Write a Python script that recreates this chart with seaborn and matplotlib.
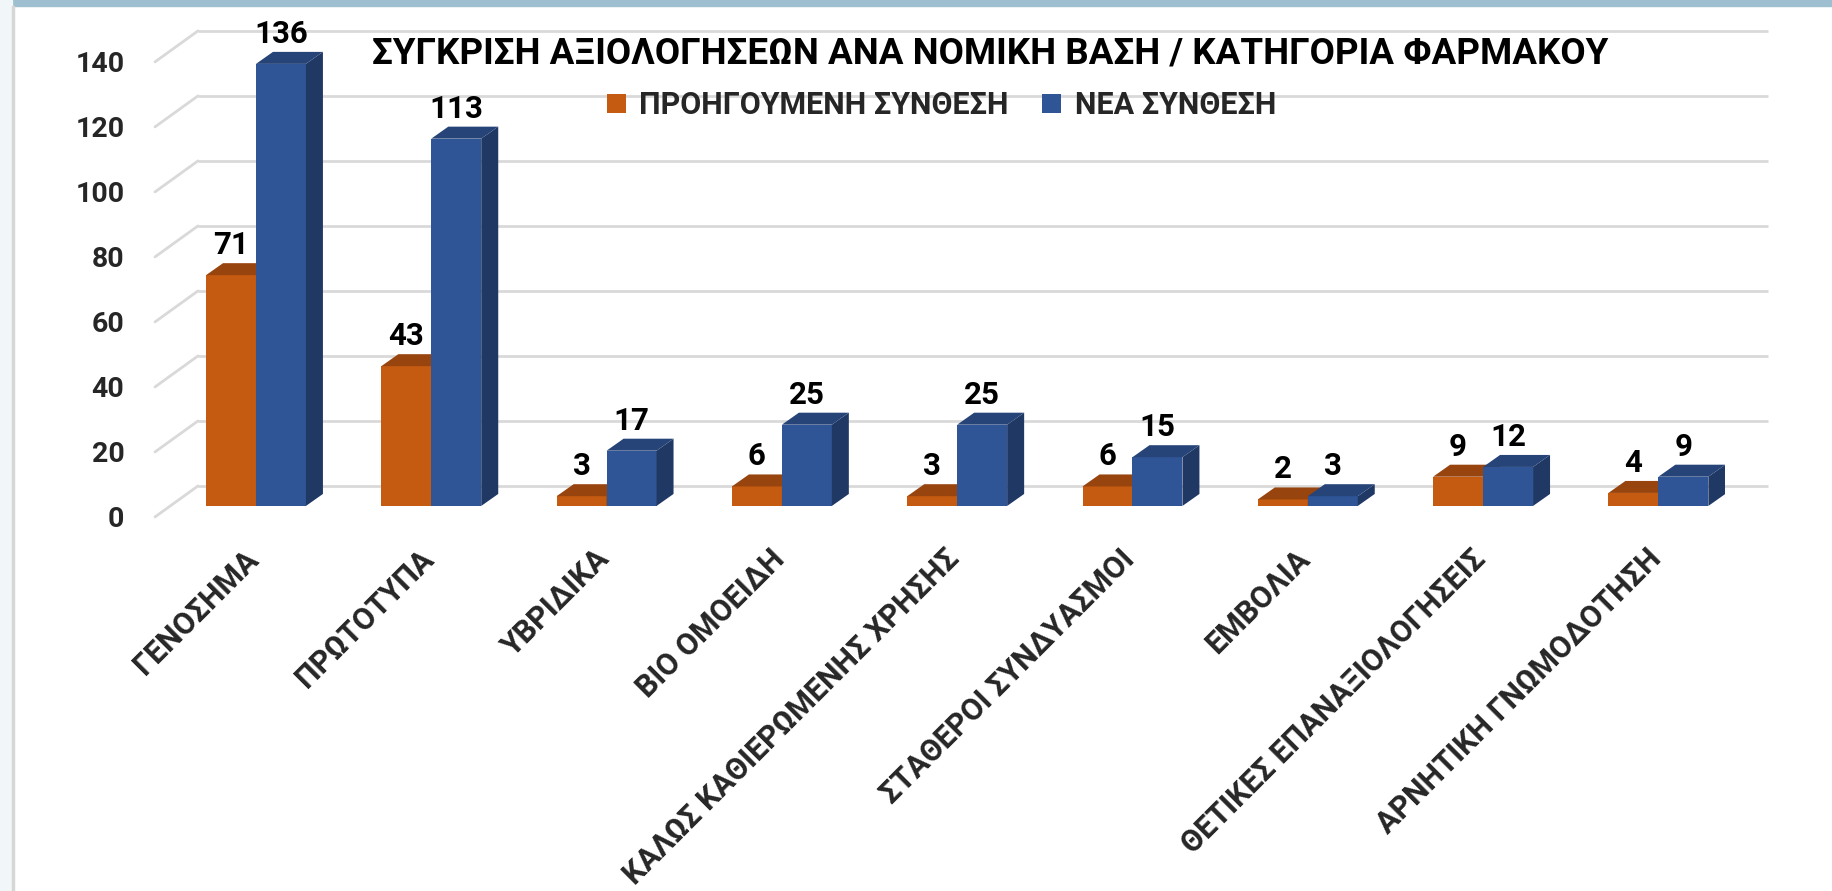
import pandas as pd
import seaborn as sns
import matplotlib.pyplot as plt
import matplotlib.transforms as mtransforms
from matplotlib.patches import Polygon, Rectangle

categories = ['ΓΕΝΟΣΗΜΑ', 'ΠΡΩΤΟΤΥΠΑ', 'ΥΒΡΙΔΙΚΑ', 'ΒΙΟ ΟΜΟΕΙΔΗ',
              'ΚΑΛΩΣ ΚΑΘΙΕΡΩΜΕΝΗΣ ΧΡΗΣΗΣ', 'ΣΤΑΘΕΡΟΙ ΣΥΝΔΥΑΣΜΟΙ', 'ΕΜΒΟΛΙΑ',
              'ΘΕΤΙΚΕΣ ΕΠΑΝΑΞΙΟΛΟΓΗΣΕΙΣ', 'ΑΡΝΗΤΙΚΗ ΓΝΩΜΟΔΟΤΗΣΗ']
previous = [71, 43, 3, 6, 3, 6, 2, 9, 4]
new = [136, 113, 17, 25, 25, 15, 3, 12, 9]
series = ['ΠΡΟΗΓΟΥΜΕΝΗ ΣΥΝΘΕΣΗ', 'ΝΕΑ ΣΥΝΘΕΣΗ']
yticks = [0, 20, 40, 60, 80, 100, 120, 140]

front = ['#c55a11', '#2f5597']
top = ['#98440e', '#264478']
side = ['#843c0c', '#203864']

df = pd.DataFrame({
    'cat': categories * 2,
    'val': previous + new,
    'series': [series[0]] * len(categories) + [series[1]] * len(categories),
})

sns.set_theme(style='white')
plt.rcParams['font.family'] = ['Roboto', 'DejaVu Sans']
plt.rcParams['font.weight'] = 'bold'

W, H = 1832, 891
fig = plt.figure(figsize=(W / 100, H / 100), dpi=100)
fig.patch.set_facecolor('white')
fig.patches.append(Rectangle((0, 1 - 6 / H), 1, 6 / H, transform=fig.transFigure,
                             color='#9dbfcf', zorder=0))
fig.patches.append(Rectangle((0, 0), 12 / W, 1, transform=fig.transFigure,
                             color='#f1f6f9', zorder=0))
fig.patches.append(Rectangle((12 / W, 0), 2 / W, 1 - 6 / H, transform=fig.transFigure,
                             color='#d6d6d6', zorder=0))

# axes box = front edge of the 3d floor
ax_l, ax_r, ax_b, ax_t = 155, 1725, 374, 871
ax = fig.add_axes([ax_l / W, ax_b / H, (ax_r - ax_l) / W, (ax_t - ax_b) / H])
ax.set_facecolor('none')

sns.barplot(data=df, x='cat', y='val', hue='series', palette=front, width=0.57,
            saturation=1, linewidth=0, ax=ax, zorder=2)

x0, x1 = -0.576, 8.38
y0, y1 = -3.4, 149.5
ax.set_xlim(x0, x1)
ax.set_ylim(y0, y1)
px_x = (ax_r - ax_l) / (x1 - x0)
px_y = (ax_t - ax_b) / (y1 - y0)

# back wall gridlines + side wall lines
gdx, gdy = 43 / px_x, 20 / px_y
fdy = -11 / px_y
for v in yticks:
    ax.plot([x0 + gdx, x1 + gdx], [v + gdy, v + gdy], color='#d9d9d9', lw=2,
            zorder=1, clip_on=False, solid_capstyle='butt')
    ax.plot([x0, x0 + gdx], [v + fdy, v + gdy], color='#d9d9d9', lw=2,
            zorder=1, clip_on=False)

# 3d faces on bars
bdx, bdy = 17 / px_x, 12 / px_y
for k, cont in enumerate(ax.containers):
    z = 2 + k
    for bar in cont:
        bar.set_zorder(z)
        bx, bw, bh = bar.get_x(), bar.get_width(), bar.get_height()
        ax.add_patch(Polygon([(bx + bw, 0), (bx + bw + bdx, bdy), (bx + bw + bdx, bh + bdy),
                              (bx + bw, bh)], closed=True, color=side[k], lw=0, zorder=z + 0.1))
        ax.add_patch(Polygon([(bx, bh), (bx + bw, bh), (bx + bw + bdx, bh + bdy),
                              (bx + bdx, bh + bdy)], closed=True, color=top[k], lw=0, zorder=z + 0.2))
        ax.annotate(f'{int(bh)}', (bx + bw / 2, bh), xytext=(0, 15),
                    textcoords='offset pixels', ha='center', va='bottom',
                    fontsize=22.5, fontweight='bold', color='black', zorder=10)

ax.set_yticks(yticks)
ax.set_yticklabels([str(v) for v in yticks], fontsize=20.5, fontweight='bold')
ax.tick_params(axis='y', length=0, pad=22)
shift = mtransforms.ScaledTranslation(0, -11 / 100, fig.dpi_scale_trans)
for lab in ax.get_yticklabels():
    lab.set_transform(lab.get_transform() + shift)

ax.set_xticks(range(len(categories)))
ax.set_xticklabels(categories, rotation=45, ha='right', rotation_mode='anchor',
                   fontsize=22, fontweight='bold')
ax.tick_params(axis='x', length=0, pad=22)
xshift = mtransforms.ScaledTranslation(-13 / 100, 4 / 100, fig.dpi_scale_trans)
for lab in ax.get_xticklabels():
    lab.set_transform(lab.get_transform() + xshift)
ax.set_xlabel('')
ax.set_ylabel('')
for s in ax.spines.values():
    s.set_visible(False)

fig.text(990 / W, 1 - 53 / H, 'ΣΥΓΚΡΙΣΗ ΑΞΙΟΛΟΓΗΣΕΩΝ ΑΝΑ ΝΟΜΙΚΗ ΒΑΣΗ / ΚΑΤΗΓΟΡΙΑ ΦΑΡΜΑΚΟΥ',
         ha='center', va='center', fontsize=26.5, fontweight='bold', color='black')

handles, labels = ax.get_legend_handles_labels()
ax.legend(handles, labels, loc='center left', bbox_to_anchor=(592 / W, 1 - 105 / H),
          bbox_transform=fig.transFigure, ncol=2, frameon=False,
          handlelength=0.6, handleheight=0.6, handletextpad=0.45, columnspacing=1.1,
          borderpad=0, prop={'weight': 'bold', 'size': 22})

fig.savefig('out.png', dpi=100)
